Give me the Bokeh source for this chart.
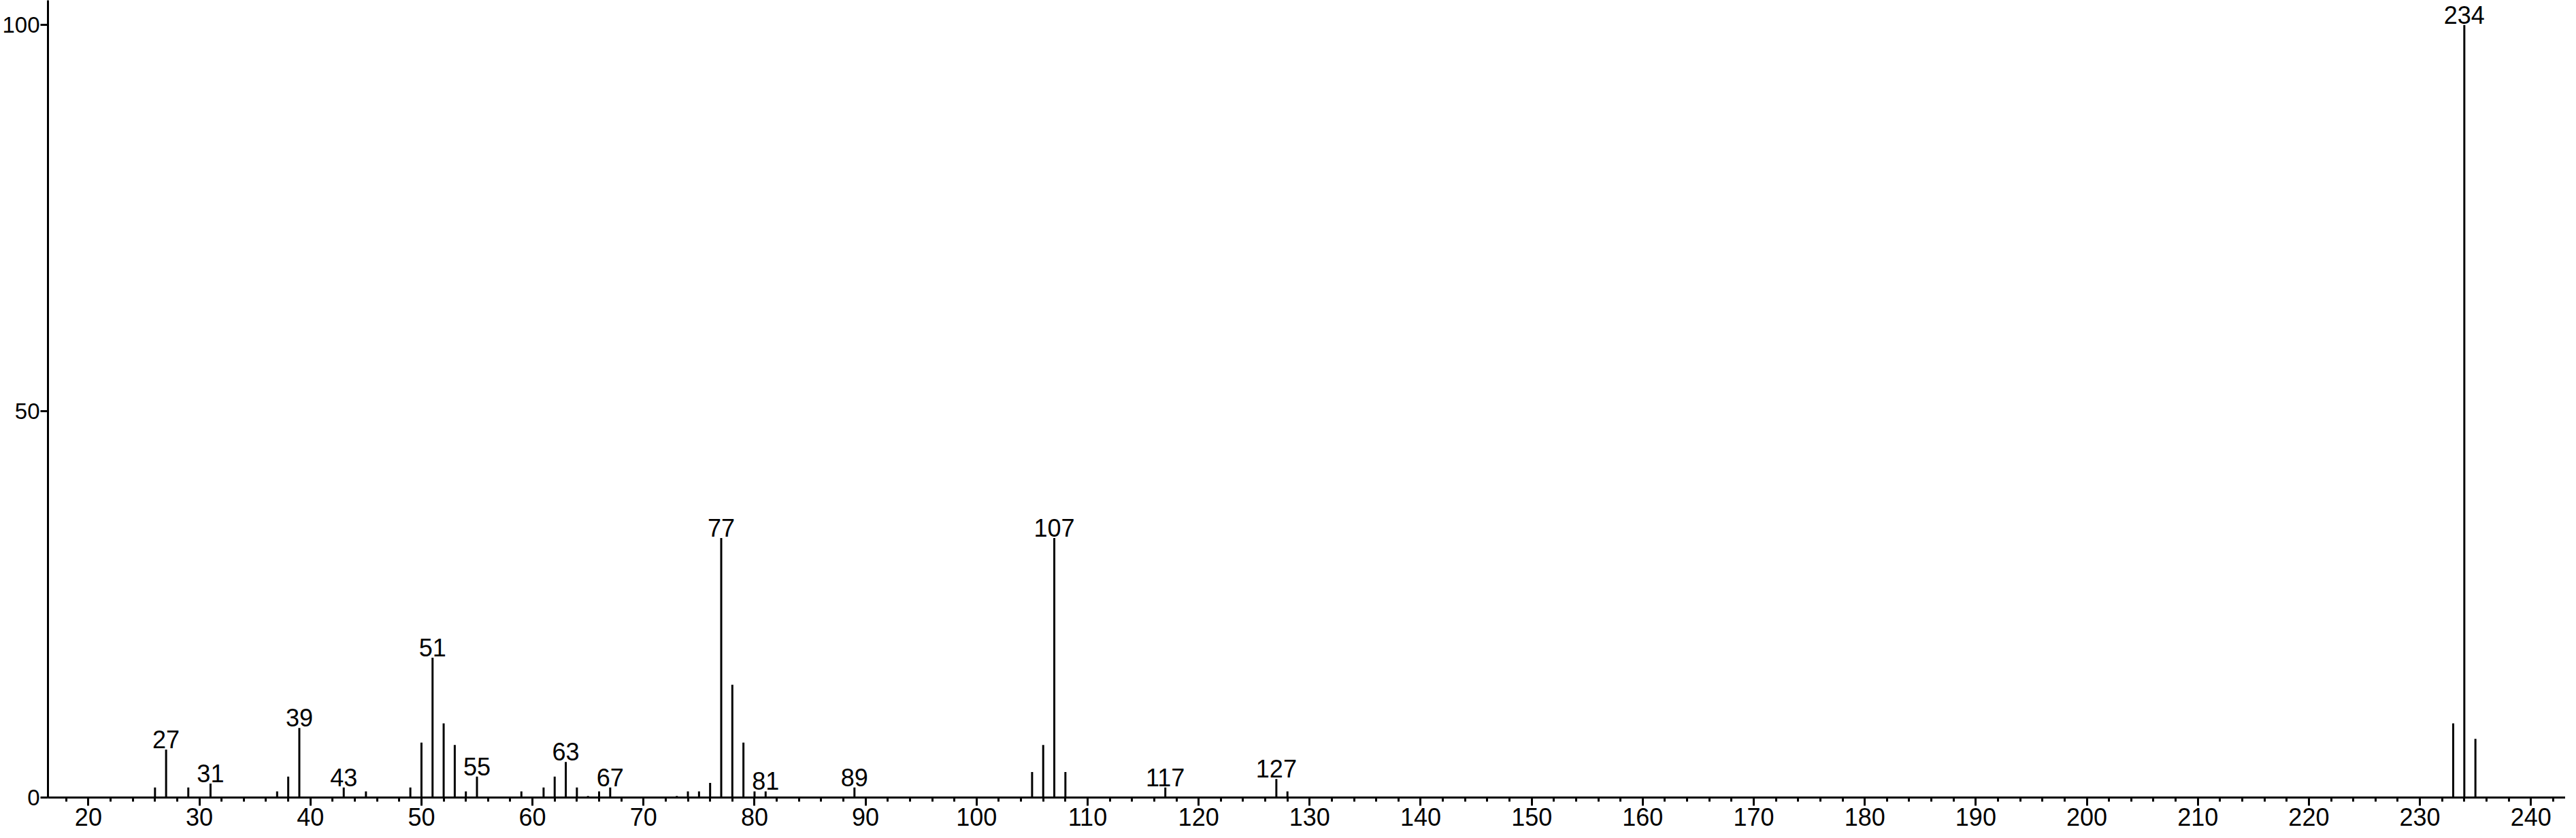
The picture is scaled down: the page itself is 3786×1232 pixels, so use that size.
from bokeh.plotting import figure
from bokeh.models import Range1d, SingleIntervalTicker, FixedTicker, ColumnDataSource
from bokeh.core.properties import value
from bokeh.embed import file_html
from bokeh.resources import INLINE

# m/z values and relative intensities
mz = [26, 27, 29, 31, 37, 38, 39, 43, 45, 49, 50, 51, 52, 53, 54, 55, 59, 61, 62, 63,
      64, 65, 66, 67, 73, 74, 75, 76, 77, 78, 79, 80, 81, 89, 105, 106, 107, 108,
      117, 127, 128, 233, 234, 235]
intensity = [1.3, 6.2, 1.3, 1.8, 0.8, 2.7, 9.0, 1.3, 0.8, 1.3, 7.1, 18.1, 9.6, 6.8, 0.8, 2.7, 0.8, 1.3, 2.7, 4.6,
             1.3, 0.2, 0.8, 1.3, 0.2, 0.8, 0.8, 1.9, 33.6, 14.6, 7.1, 0.8, 0.8, 1.3, 3.3, 6.8, 33.6, 3.3,
             1.3, 2.4, 0.8, 9.6, 100.0, 7.6]

labeled_mz = [27, 31, 39, 43, 51, 55, 63, 67, 77, 81, 89, 107, 117, 127, 234]
labeled_int = [intensity[mz.index(m)] for m in labeled_mz]
labeled_txt = [str(m) for m in labeled_mz]

y_ticks = [0, 50, 100]

FONT = "Liberation Sans"
FS = "36px"

p = figure(width=3770, height=1216, output_backend="svg", toolbar_location=None,
           x_range=Range1d(16.36, 243.11), y_range=Range1d(0, 103.2),
           min_border_left=0, min_border_right=0, min_border_top=0, min_border_bottom=0)
p.outline_line_color = None
p.grid.visible = False
p.background_fill_color = "white"
p.border_fill_color = "white"

src = ColumnDataSource(dict(x=mz, y=intensity, y0=[0] * len(mz)))
p.segment(x0="x", y0="y0", x1="x", y1="y", source=src, line_color="black", line_width=3)

lsrc = ColumnDataSource(dict(x=labeled_mz, y=labeled_int, t=labeled_txt))
p.text(x="x", y="y", text="t", source=lsrc, text_align="center", text_baseline="bottom",
       y_offset=-2, text_font=value(FONT), text_font_size=FS, text_color="black")

xa = p.xaxis[0]
xa.ticker = SingleIntervalTicker(interval=10, num_minor_ticks=5)
xa.axis_line_width = 3
xa.major_tick_line_width = 3
xa.minor_tick_line_width = 3
xa.major_tick_out = 12
xa.major_tick_in = 0
xa.minor_tick_out = 6
xa.minor_tick_in = 0
xa.major_label_standoff = 3
xa.major_label_text_font = FONT
xa.major_label_text_font_size = FS
xa.major_label_text_color = "black"

ya = p.yaxis[0]
ya.ticker = FixedTicker(ticks=y_ticks, minor_ticks=[])
ya.axis_line_width = 3
ya.major_tick_line_width = 3
ya.major_tick_out = 11
ya.major_tick_in = 0
ya.minor_tick_line_color = None
ya.major_label_standoff = 1
ya.major_label_text_font = FONT
ya.major_label_text_font_size = "33px"
ya.major_label_text_color = "black"

open("out.html", "w").write(file_html(p, INLINE))
